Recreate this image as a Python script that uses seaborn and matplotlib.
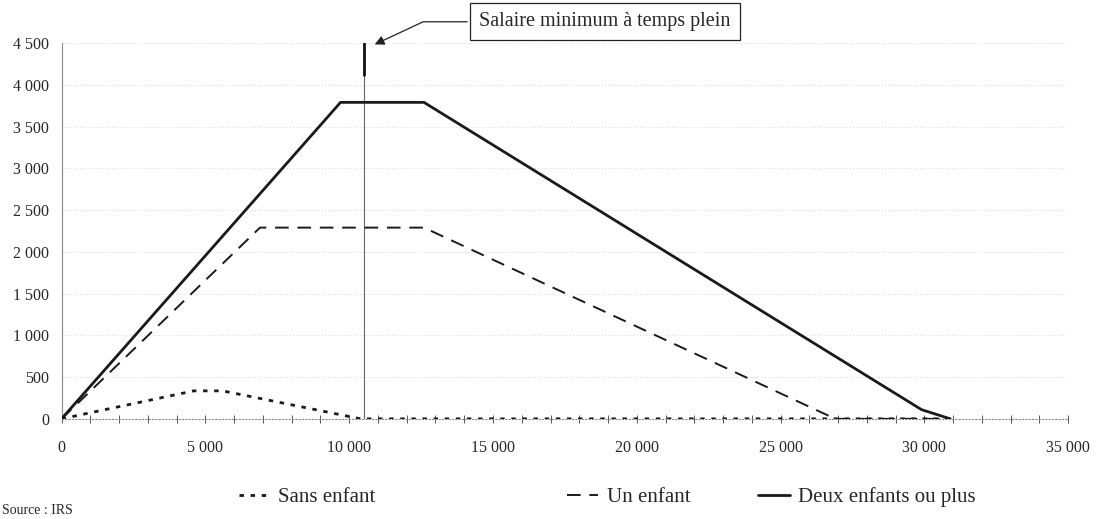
import numpy as np
import pandas as pd
import matplotlib
matplotlib.use("Agg")
import matplotlib.pyplot as plt
import seaborn as sns
from matplotlib.ticker import MultipleLocator, FuncFormatter
from matplotlib.lines import Line2D

# crédit d'impôt selon le revenu d'activité
revenu_sans = [0, 4600, 5600, 10400, 30900]
credit_sans = [0, 335, 335, 0, 0]
revenu_un = [0, 6900, 12600, 26900, 30900]
credit_un = [0, 2290, 2290, 0, 0]
revenu_deux = [0, 9700, 12600, 29900, 30900]
credit_deux = [0, 3790, 3790, 110, 0]

series = ["Sans enfant", "Un enfant", "Deux enfants ou plus"]
salaire_minimum = 10500
note = "Salaire minimum à temps plein"
source = "Source : IRS"

frames = []
for name, xs, ys in zip(series, [revenu_sans, revenu_un, revenu_deux],
                        [credit_sans, credit_un, credit_deux]):
    frames.append(pd.DataFrame({"revenu": xs, "credit": ys, "serie": name}))
df = pd.concat(frames, ignore_index=True)

sns.set_style("white")
plt.rcParams["font.family"] = ["Liberation Serif", "DejaVu Serif"]

fig = plt.figure(figsize=(10.99, 5.19), dpi=100)
ax = fig.add_axes([0.056, 0.193, 0.916, 0.724])

dashes = {"Sans enfant": (1.6, 2.4), "Un enfant": (7, 4.5), "Deux enfants ou plus": ""}
sizes = {"Sans enfant": 2.0, "Un enfant": 1.4, "Deux enfants ou plus": 2.0}
palette = {s: "#1a1a1a" for s in series}

sns.lineplot(data=df, x="revenu", y="credit", hue="serie", style="serie",
             size="serie", dashes=dashes, sizes=sizes, palette=palette,
             estimator=None, sort=False, legend=False, ax=ax, zorder=3)

# salaire minimum
ax.axvline(salaire_minimum, ymin=0, ymax=1, color="#666666", lw=0.8, zorder=2)
ax.axvline(salaire_minimum, ymin=4120 / 4500, ymax=1, color="#111111", lw=2.0, zorder=2)

ax.annotate(note, xy=(salaire_minimum + 300, 4470), xytext=(18900, 4755),
            xycoords="data", textcoords="data", annotation_clip=False,
            fontsize=14.5, ha="center", va="center",
            bbox=dict(boxstyle="square,pad=0.45", fc="white", ec="#222222", lw=0.9),
            arrowprops=dict(arrowstyle="-|>", color="#222222", lw=0.9,
                            mutation_scale=14,
                            connectionstyle="angle,angleA=0,angleB=25"))

ax.set_xlim(0, 35000)
ax.set_ylim(0, 4500)
ax.xaxis.set_major_locator(MultipleLocator(5000))
ax.xaxis.set_minor_locator(MultipleLocator(1000))
ax.yaxis.set_major_locator(MultipleLocator(500))
fmt = FuncFormatter(lambda v, p: f"{v:,.0f}".replace(",", " "))
ax.xaxis.set_major_formatter(fmt)
ax.yaxis.set_major_formatter(fmt)
ax.tick_params(axis="x", which="both", direction="inout", length=6, width=0.7,
               color="#555555", labelsize=11.5, pad=12, bottom=True)
ax.tick_params(axis="y", length=0, labelsize=11.5, pad=9)
ax.set_xlabel("")
ax.set_ylabel("")

ax.grid(axis="y", color="#d8d8d8", lw=0.7, ls=(0, (1, 2)))
ax.grid(axis="x", visible=False)
for s in ["top", "right"]:
    ax.spines[s].set_visible(False)
ax.spines["left"].set_color("#888888")
ax.spines["left"].set_linewidth(0.8)
ax.spines["bottom"].set_color("#888888")
ax.spines["bottom"].set_linewidth(0.8)
ax.spines["bottom"].set_linestyle((0, (1, 2)))

# légende éclatée comme sur l'original
leg_pos = [0.200, 0.499, 0.673]
for name, xpos in zip(series, leg_pos):
    if dashes[name]:
        h = Line2D([], [], color="#1a1a1a", lw=sizes[name], dashes=dashes[name])
    else:
        h = Line2D([], [], color="#1a1a1a", lw=sizes[name])
    fig.legend([h], [name], loc="center left", bbox_to_anchor=(xpos, 0.042),
               frameon=False, fontsize=15, handlelength=1.5, handletextpad=0.4)

fig.text(0.002, 0.004, source, fontsize=10, ha="left", va="bottom")

fig.savefig("out.png", dpi=100)
